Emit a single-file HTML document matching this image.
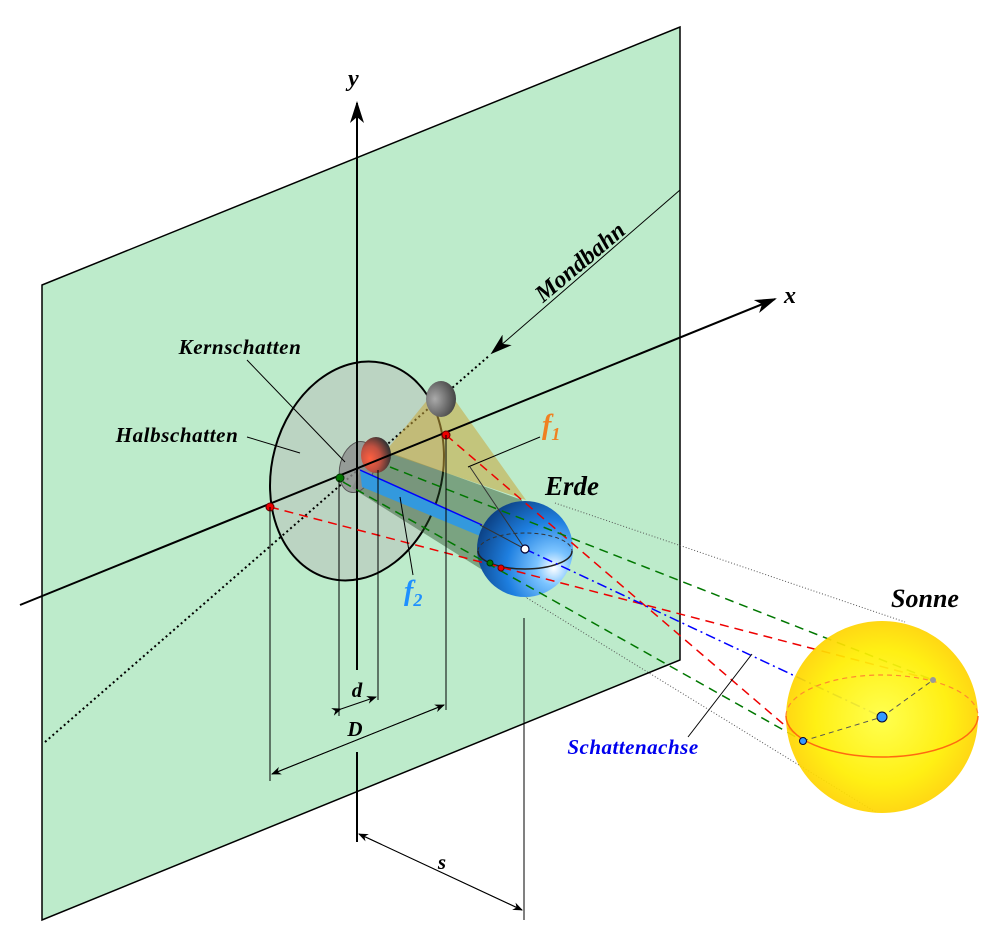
<!DOCTYPE html>
<html><head><meta charset="utf-8"><style>
html,body{margin:0;padding:0;background:#fff}
svg{display:block}
text{font-family:"Liberation Serif",serif;font-style:italic;font-weight:bold}
</style></head><body>
<svg width="1000" height="948" viewBox="0 0 1000 948" xmlns="http://www.w3.org/2000/svg">
<defs>
<radialGradient id="eg" cx="0.8" cy="0.7" r="0.9">
<stop offset="0" stop-color="#ffffff"/><stop offset="0.2" stop-color="#7cc4ff"/><stop offset="0.55" stop-color="#1e7fe0"/><stop offset="1" stop-color="#0a3a7a"/></radialGradient>
<radialGradient id="sg" cx="0.5" cy="0.5" r="0.5">
<stop offset="0" stop-color="#ffff40"/><stop offset="0.7" stop-color="#ffee00"/><stop offset="1" stop-color="#ffd400"/></radialGradient>
<radialGradient id="mg" cx="0.3" cy="0.5" r="0.7"><stop offset="0" stop-color="#aaa"/><stop offset="1" stop-color="#444"/></radialGradient>
<radialGradient id="mr" cx="0.3" cy="0.6" r="0.7"><stop offset="0" stop-color="#ff6040"/><stop offset="0.5" stop-color="#c05040"/><stop offset="1" stop-color="#333"/></radialGradient>
<marker id="ah" markerWidth="10" markerHeight="8" refX="9" refY="4" orient="auto" markerUnits="userSpaceOnUse"><path d="M0,0 L10,4 L0,8 L3,4z" fill="#000"/></marker>
<marker id="as" markerWidth="22" markerHeight="14" refX="20" refY="7" orient="auto" markerUnits="userSpaceOnUse"><path d="M0,0 L22,7 L0,14 L6,7z" fill="#000"/></marker>
</defs>
<polygon points="42,285 680,27 680,660 42,920" fill="#bdebcb" stroke="#000" stroke-width="1.5"/>
<ellipse cx="357" cy="471" rx="85" ry="111" transform="rotate(15 357 471)" fill="rgba(185,185,185,0.45)" stroke="#000" stroke-width="2"/>
<line x1="45" y1="742" x2="490" y2="355" stroke="#000" stroke-width="2" stroke-dasharray="2,3"/>
<polygon points="372,446 522,500 527,598 352,488" fill="rgba(40,75,40,0.45)"/>
<polygon points="442,382 526,500 385,452" fill="rgba(200,165,60,0.55)"/>
<ellipse cx="357" cy="467" rx="17" ry="26" transform="rotate(15 357 467)" fill="rgba(140,140,140,0.8)" stroke="#555" stroke-width="1"/>
<polygon points="360,470 482,525 480,536 362,487" fill="#3399dd"/>
<line x1="360" y1="470" x2="482" y2="525" stroke="#0000ff" stroke-width="1.5"/>
<ellipse cx="441" cy="399" rx="15" ry="18" fill="url(#mg)"/>
<ellipse cx="376" cy="455" rx="15" ry="18" fill="url(#mr)"/>
<line x1="20" y1="605" x2="775" y2="299" stroke="#000" stroke-width="2" marker-end="url(#as)"/>
<line x1="357" y1="670" x2="357" y2="103" stroke="#000" stroke-width="2" marker-end="url(#as)"/>
<line x1="357" y1="752" x2="357" y2="842" stroke="#000" stroke-width="2"/>
<line x1="555" y1="503" x2="905" y2="622" stroke="#555" stroke-width="1" stroke-dasharray="1,2"/>
<line x1="527" y1="598" x2="877" y2="813" stroke="#555" stroke-width="1" stroke-dasharray="1,2"/>
<circle cx="525" cy="549" r="48" fill="url(#eg)"/>
<path d="M478,551 A47,18 0 0 1 572,551" fill="none" stroke="#333" stroke-width="1" stroke-dasharray="4,3"/>
<path d="M478,551 A47,18 0 0 0 572,551" fill="none" stroke="#222" stroke-width="1.5"/>
<line x1="270" y1="507" x2="933" y2="680" stroke="#e00" stroke-width="1.5" stroke-dasharray="9,6"/>
<line x1="446" y1="435" x2="803" y2="741" stroke="#e00" stroke-width="1.5" stroke-dasharray="9,6"/>
<line x1="343" y1="482" x2="803" y2="741" stroke="#070" stroke-width="1.5" stroke-dasharray="9,6"/>
<line x1="390" y1="467" x2="933" y2="680" stroke="#070" stroke-width="1.5" stroke-dasharray="9,6"/>
<line x1="525" y1="549" x2="882" y2="717" stroke="#00f" stroke-width="1.5" stroke-dasharray="10,4,2,4"/>
<line x1="480" y1="525" x2="525" y2="549" stroke="#333" stroke-width="1"/>
<line x1="470" y1="467" x2="525" y2="549" stroke="#333" stroke-width="1"/>
<circle cx="525" cy="549" r="4" fill="#fff" stroke="#003" stroke-width="1.2"/>
<circle cx="882" cy="717" r="96" fill="url(#sg)" fill-opacity="0.92"/>
<path d="M786,716 A96,41 0 0 1 978,716" fill="none" stroke="#ff8a30" stroke-width="1.2" stroke-dasharray="5,4"/>
<path d="M786,716 A96,41 0 0 0 978,716" fill="none" stroke="#ff6a10" stroke-width="1.5"/>
<line x1="803" y1="741" x2="882" y2="717" stroke="#555" stroke-width="1" stroke-dasharray="5,4"/>
<line x1="882" y1="717" x2="933" y2="680" stroke="#555" stroke-width="1" stroke-dasharray="5,4"/>
<circle cx="882" cy="717" r="5" fill="#3399ff" stroke="#003" stroke-width="1"/>
<circle cx="803" cy="741" r="3.5" fill="#3399ff" stroke="#003" stroke-width="1"/>
<circle cx="933" cy="680" r="3" fill="#999"/>
<circle cx="270" cy="507" r="4" fill="#e00" stroke="#600"/>
<circle cx="446" cy="435" r="4" fill="#e00" stroke="#600"/>
<circle cx="340" cy="478" r="4" fill="#070" stroke="#030"/>
<circle cx="490" cy="563" r="3" fill="#070" stroke="#030"/>
<circle cx="501" cy="568" r="3" fill="#e00" stroke="#600"/>
<g stroke="#000" stroke-width="1">
<line x1="270" y1="507" x2="270" y2="781"/>
<line x1="339" y1="480" x2="339" y2="716"/>
<line x1="378" y1="470" x2="378" y2="700"/>
<line x1="446" y1="435" x2="446" y2="710"/>
<line x1="524" y1="618" x2="524" y2="920"/>
<line x1="341" y1="709" x2="376" y2="697" marker-end="url(#ah)" marker-start="url(#ah)"/>
<line x1="272" y1="774" x2="444" y2="705" marker-end="url(#ah)"/>
<line x1="444" y1="705" x2="272" y2="774" marker-end="url(#ah)"/>
<line x1="359" y1="834" x2="522" y2="910" marker-end="url(#ah)"/>
<line x1="522" y1="910" x2="359" y2="834" marker-end="url(#ah)"/>
<line x1="247" y1="360" x2="345" y2="462"/>
<line x1="247" y1="437" x2="300" y2="453"/>
<line x1="540" y1="437" x2="468" y2="467"/>
<line x1="413" y1="575" x2="400" y2="497"/>
<line x1="688" y1="737" x2="752" y2="654"/>
<line x1="680" y1="190" x2="492" y2="353" marker-end="url(#as)"/>
</g>
<text x="348" y="86" font-size="24">y</text>
<text x="784" y="303" font-size="24">x</text>
<text x="240" y="354" font-size="21" text-anchor="middle" letter-spacing="0.6">Kernschatten</text>
<text x="177" y="442" font-size="21" text-anchor="middle" letter-spacing="0.6">Halbschatten</text>
<text x="585" y="268" font-size="24" text-anchor="middle" transform="rotate(-40 585 268)">Mondbahn</text>
<text x="542" y="434" font-size="28" fill="#f08020">f<tspan font-size="18" dy="6">1</tspan></text>
<text x="404" y="600" font-size="28" fill="#1e90ff">f<tspan font-size="18" dy="6">2</tspan></text>
<text x="572" y="495" font-size="27" text-anchor="middle">Erde</text>
<text x="925" y="607" font-size="26" text-anchor="middle">Sonne</text>
<text x="633" y="754" font-size="21" text-anchor="middle" fill="#0000ee" letter-spacing="0.5">Schattenachse</text>
<text x="357" y="697" font-size="21" text-anchor="middle">d</text>
<text x="355" y="736" font-size="21" text-anchor="middle">D</text>
<text x="442" y="869" font-size="21" text-anchor="middle">s</text>
</svg>
</body></html>
